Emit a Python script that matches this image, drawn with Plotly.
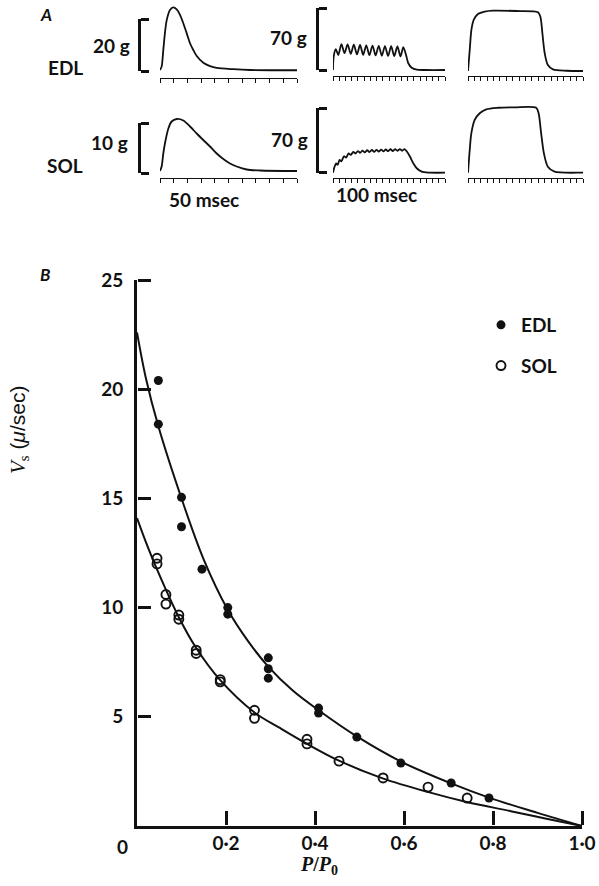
import plotly.graph_objects as go

W, H = 599, 886

# ---------------- Panel B : force-velocity data ----------------
edl_p = [0.048, 0.048, 0.100, 0.100, 0.146, 0.204, 0.204, 0.295, 0.295, 0.295,
         0.408, 0.408, 0.494, 0.593, 0.706, 0.791]
edl_v = [20.4, 18.4, 15.05, 13.7, 11.76, 10.0, 9.7, 7.7, 7.2, 6.77,
         5.4, 5.17, 4.07, 2.88, 1.97, 1.28]
sol_p = [0.045, 0.045, 0.065, 0.065, 0.094, 0.094, 0.133, 0.133, 0.187, 0.187,
         0.264, 0.264, 0.382, 0.382, 0.454, 0.553, 0.654, 0.742]
sol_v = [12.26, 12.0, 10.6, 10.16, 9.66, 9.47, 8.05, 7.9, 6.7, 6.6,
         5.3, 4.93, 3.97, 3.76, 2.97, 2.2, 1.78, 1.28]

# fitted curves
edl_fit_p = [0, 0.02, 0.048, 0.1, 0.15, 0.204, 0.25, 0.295, 0.35, 0.408, 0.494,
             0.593, 0.706, 0.791, 0.9, 1.0]
edl_fit_v = [22.6, 20.5, 18.3, 15.0, 12.2, 9.9, 8.45, 7.3, 6.2, 5.3, 4.1,
             2.95, 1.95, 1.3, 0.6, 0]
sol_fit_p = [0, 0.02, 0.045, 0.094, 0.133, 0.187, 0.264, 0.32, 0.383, 0.455,
             0.552, 0.655, 0.741, 0.84, 0.92, 1.0]
sol_fit_v = [14.1, 13.0, 11.75, 9.56, 8.15, 6.68, 5.2, 4.5, 3.75, 2.98,
             2.18, 1.55, 1.1, 0.68, 0.33, 0]

x_tickvals = [0.2, 0.4, 0.6, 0.8, 1.0]
x_ticktext = ["0·2", "0·4", "0·6", "0·8", "1·0"]
y_tickvals = [5, 10, 15, 20, 25]
y_ticktext = ["5", "10", "15", "20", "25"]

# ---------------- Panel A : myograms (time in ms, force in g) ----------------
edl_twitch_t = [0, 1.2, 2.4, 3.6, 4.9, 7.3, 9.7, 12.2, 14.6, 17.0, 19.5, 21.9,
                24.3, 26.8, 31.6, 36.5, 41.4, 53.5, 65.7, 100]
edl_twitch_g = [0, 1.3, 7.7, 14.2, 19.2, 23.1, 24.1, 23.3, 21.2, 18.0, 14.1, 10.3,
                7.7, 5.4, 2.8, 1.5, 0.8, 0.3, 0, -0.1]

sol_twitch_t = [0, 1.2, 2.4, 3.6, 6.1, 8.5, 12.2, 17.0, 21.9, 26.8, 31.6, 36.5,
                41.4, 46.2, 51.1, 56.0, 63.3, 73.0, 100]
sol_twitch_g = [0, 0.9, 3.5, 5.5, 8.5, 9.9, 10.4, 10.1, 8.9, 7.5, 6.2, 4.9,
                3.5, 2.4, 1.5, 0.9, 0.3, 0.1, 0]

edl_tet1_t = [0, 1.1, 4.5, 8.5, 13.5, 18.5, 23.5, 28.5, 33.5, 38.5, 43.5, 48.5,
              53.5, 58.5, 63.5, 68.5, 73.5, 78.5, 83.5, 88.5, 93.5, 98.5, 103.5,
              108.5, 113, 117.4, 121, 126.5, 134.6, 150, 180]
edl_tet1_g = [0, 15, 23.4, 16.9, 29.3, 19.0, 29.0, 18.2, 28.6, 17.6, 28.2, 17.1,
              27.9, 16.7, 27.6, 16.4, 27.3, 16.1, 27.0, 15.9, 26.8, 15.7, 26.5,
              15.5, 25.8, 16.9, 7.6, 2.6, 0.3, 0, 0]

sol_tet1_t = [0, 2.5, 5.0, 7.5, 10.5, 13.5, 17.5, 21.0, 25.0, 28.5, 32.5, 36.0,
              40.0, 43.5, 47.5, 51.0, 55.0, 58.5, 62.5, 66.0, 70.0, 73.5, 77.5,
              81.0, 85.0, 88.5, 92.5, 96.0, 100.0, 103.5, 107.5, 111.0, 115.0,
              119.0, 123.8, 129.0, 134.6, 142.6, 155, 180]
sol_tet1_g = [0, 6.5, 10.0, 8.6, 13.8, 12.2, 17.8, 16.4, 20.8, 19.2, 22.5, 20.7,
              23.4, 21.5, 23.9, 22.0, 24.3, 22.4, 24.6, 22.7, 24.8, 22.9, 25.0,
              23.1, 25.2, 23.3, 25.4, 23.5, 25.5, 23.6, 25.6, 23.7, 25.6, 22.6,
              17.3, 10.2, 4.8, 1.1, 0.1, 0]

edl_tet2_t = [0, 2.7, 5.3, 8.9, 15.6, 26, 39, 76, 109.5, 113.3, 116.4, 120,
              125, 133, 154, 180]
edl_tet2_g = [0, 23.7, 46.3, 57.6, 64.3, 67, 68.1, 67.7, 66.3, 61.3, 42.9, 20.3,
              6.8, 1.9, 0.3, 0]

sol_tet2_t = [0, 2.7, 5.2, 10.5, 18.3, 28.6, 46.9, 73, 106.7, 110.5, 114.5,
              118.8, 125, 135.5, 176, 180]
sol_tet2_g = [0, 24.6, 42.6, 57.1, 64.3, 68.6, 70.3, 70.8, 70.3, 64.3, 42.6,
              21.0, 6.5, 1.1, 0, 0]

twitch_window_ms = 100
tetanus_window_ms = 180
time_tick_ms = 10
scale_bars_g = [20, 10, 70, 70]

# ---------------- helpers ----------------
def fx(px):
    return px / W

def fy(py):
    return 1 - py / H

SANS = "Lato"
INK = "#111111"

fig = go.Figure()

# Panel B curves and points
fig.add_trace(go.Scatter(x=edl_fit_p, y=edl_fit_v, mode="lines",
                         line=dict(color=INK, width=2, shape="spline", smoothing=1.0),
                         showlegend=False, hoverinfo="skip"))
fig.add_trace(go.Scatter(x=sol_fit_p, y=sol_fit_v, mode="lines",
                         line=dict(color=INK, width=2, shape="spline", smoothing=1.0),
                         showlegend=False, hoverinfo="skip"))
fig.add_trace(go.Scatter(x=edl_p, y=edl_v, mode="markers", name="EDL",
                         legendgroup="edl", cliponaxis=False,
                         marker=dict(symbol="circle", size=9, color=INK)))
fig.add_trace(go.Scatter(x=sol_p, y=sol_v, mode="markers", name="SOL",
                         legendgroup="sol", cliponaxis=False,
                         marker=dict(symbol="circle-open", size=9, color=INK,
                                     line=dict(width=1.9, color=INK))))

layout = dict(
    width=W, height=H,
    margin=dict(l=0, r=0, t=0, b=0, pad=0, autoexpand=False),
    paper_bgcolor="white", plot_bgcolor="rgba(0,0,0,0)",
    showlegend=True,
    legend=dict(x=fx(481), y=fy(306), xanchor="left", yanchor="top",
                font=dict(family=SANS, size=19, color=INK, weight="bold"),
                tracegroupgap=13, bgcolor="rgba(0,0,0,0)", itemclick=False),
)

tickfont = dict(family=SANS, size=19, color=INK, weight="bold")
layout["xaxis"] = dict(domain=[fx(137), fx(582)], range=[0, 1.0], anchor="y",
                       showline=True, linewidth=2.6, linecolor=INK, ticks="",
                       tickvals=x_tickvals, ticktext=x_ticktext, tickfont=tickfont,
                       ticklabelstandoff=-2, showgrid=False, zeroline=False)
layout["yaxis"] = dict(domain=[fy(826), fy(280)], range=[0, 25], anchor="x",
                       showline=True, linewidth=2.6, linecolor=INK, ticks="",
                       tickvals=y_tickvals, ticktext=y_ticktext, tickfont=tickfont,
                       ticklabelstandoff=7, showgrid=False, zeroline=False)

n = 2
# tick marks pointing into panel B, drawn by thin companion subplots
fig.add_trace(go.Scatter(x=[0.5], y=[0.5], mode="markers", marker=dict(opacity=0),
                         xaxis=f"x{n}", yaxis=f"y{n}", showlegend=False, hoverinfo="skip"))
layout[f"xaxis{n}"] = dict(domain=[fx(137), fx(582)], range=[0, 1.0], anchor=f"y{n}",
                           side="top", showline=False, ticks="outside", ticklen=14,
                           tickwidth=2.6, tickcolor=INK, tickvals=x_tickvals,
                           showticklabels=False, showgrid=False, zeroline=False)
layout[f"yaxis{n}"] = dict(domain=[fy(838), fy(826)], range=[0, 1], anchor=f"x{n}",
                           visible=False)
n += 1
fig.add_trace(go.Scatter(x=[0.5], y=[10], mode="markers", marker=dict(opacity=0),
                         xaxis=f"x{n}", yaxis=f"y{n}", showlegend=False, hoverinfo="skip"))
layout[f"xaxis{n}"] = dict(domain=[fx(129), fx(137)], range=[0, 1], anchor=f"y{n}",
                           visible=False)
layout[f"yaxis{n}"] = dict(domain=[fy(826), fy(280)], range=[0, 25], anchor=f"x{n}",
                           side="right", showline=False, ticks="outside", ticklen=13,
                           tickwidth=2.6, tickcolor=INK, tickvals=y_tickvals,
                           showticklabels=False, showgrid=False, zeroline=False)
n += 1

# Panel A myogram subplots: (t, g, x0px, x1px, window, marker_py, base_py, top_py, px_per_g)
myograms = [
    (edl_twitch_t, edl_twitch_g, 160, 297, twitch_window_ms, 77.5, 70, 2, 2.6),
    (edl_tet1_t, edl_tet1_g, 333, 445, tetanus_window_ms, 76, 70, 2, 0.886),
    (edl_tet2_t, edl_tet2_g, 468, 583, tetanus_window_ms, 76, 71, 2, 0.886),
    (sol_twitch_t, sol_twitch_g, 160, 297, twitch_window_ms, 177.5, 171, 100, 5.0),
    (sol_tet1_t, sol_tet1_g, 333, 445, tetanus_window_ms, 178, 172.7, 100, 0.924),
    (sol_tet2_t, sol_tet2_g, 468, 583, tetanus_window_ms, 178, 172.7, 100, 0.924),
]
for t, g, x0, x1, win, mk, base, top, s in myograms:
    fig.add_trace(go.Scatter(x=t, y=g, mode="lines", xaxis=f"x{n}", yaxis=f"y{n}",
                             line=dict(color=INK, width=1.8, shape="spline", smoothing=0.8),
                             showlegend=False, hoverinfo="skip"))
    layout[f"xaxis{n}"] = dict(domain=[fx(x0), fx(x1)], range=[0, win], anchor=f"y{n}",
                               showline=True, linewidth=1.4, linecolor=INK,
                               ticks="outside", ticklen=4, tickwidth=1.3, tickcolor=INK,
                               tick0=0, dtick=time_tick_ms, showticklabels=False,
                               showgrid=False, zeroline=False)
    layout[f"yaxis{n}"] = dict(domain=[fy(mk), fy(top)],
                               range=[(base - mk) / s, (base - top) / s],
                               anchor=f"x{n}", visible=False)
    n += 1

# Scale bars drawn as short right-side y-axes: (x_px, top_py, bottom_py, size_g)
brackets = [(138, 19, 71, scale_bars_g[0]), (138, 123, 173, scale_bars_g[1]),
            (316, 8, 70, scale_bars_g[2]), (316, 108, 172.7, scale_bars_g[3])]
for bx, btop, bbot, S in brackets:
    fig.add_trace(go.Scatter(x=[0.5], y=[S / 2], mode="markers", marker=dict(opacity=0),
                             xaxis=f"x{n}", yaxis=f"y{n}", showlegend=False,
                             hoverinfo="skip"))
    layout[f"xaxis{n}"] = dict(domain=[fx(bx - 10), fx(bx)], range=[0, 1],
                               anchor=f"y{n}", visible=False)
    layout[f"yaxis{n}"] = dict(domain=[fy(bbot), fy(btop)], range=[0, S], anchor=f"x{n}",
                               side="right", showline=True, linewidth=2.8, linecolor=INK,
                               ticks="outside", tickvals=[0, S], ticklen=8, tickwidth=2.8,
                               tickcolor=INK, showticklabels=False, showgrid=False,
                               zeroline=False)
    n += 1

def label(text, x, y, size=19, family=SANS, bold=True, angle=0, italic=False):
    return dict(text=text, x=fx(x), y=fy(y), xref="paper", yref="paper",
                showarrow=False, textangle=angle, xanchor="center", yanchor="middle",
                font=dict(family=family, size=size, color=INK,
                          weight="bold" if bold else "normal",
                          style="italic" if italic else "normal"))

annotations = [
    label("A", 46, 15, size=17, italic=True),
    label("B", 45, 275, size=17, italic=True),
    label("20 g", 111, 45),
    label("EDL", 65, 68),
    label("10 g", 110, 142),
    label("SOL", 65, 165),
    label("70 g", 288, 37),
    label("70 g", 289, 139),
    label("50 msec", 204, 199),
    label("100 msec", 376, 195),
    label("0", 122, 846),
    label("<i>V</i><sub>s</sub><span style='font-family:Liberation Sans'> (<i>μ</i>/sec)</span>",
          19, 430, size=21, family="Liberation Serif", bold=False, angle=-90),
    label("<i>P</i>/<i>P</i><sub>0</sub>", 319, 865, size=20, family="Liberation Serif",
          bold=True),
]
layout["annotations"] = annotations

fig.update_layout(**layout)
fig.write_html("out.html", config={"displayModeBar": False},
               post_script="document.body.style.margin='0';")
